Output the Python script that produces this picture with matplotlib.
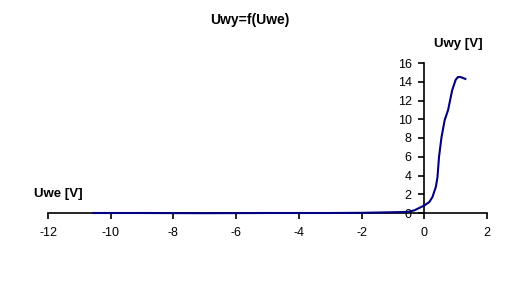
import matplotlib
matplotlib.use("Agg")
import matplotlib.pyplot as plt

# Measured characteristic Uwy = f(Uwe)
uwe = [-10.55, -9.0, -7.0, -5.0, -3.0, -2.0, -1.5, -1.0, -0.53, -0.32, 0.0,
       0.16, 0.26, 0.37, 0.42, 0.47, 0.55, 0.65, 0.76, 0.89, 1.0, 1.07,
       1.16, 1.31]
uwy = [0.0, 0.0, -0.02, 0.0, 0.0, 0.02, 0.05, 0.08, 0.12, 0.28, 0.8,
       1.17, 1.7, 2.8, 3.8, 6.0, 8.1, 9.9, 11.0, 13.1, 14.2, 14.5,
       14.5, 14.3]

x_ticks = list(range(-12, 3, 2))
y_ticks = list(range(0, 17, 2))

plt.rcParams["font.family"] = ["Liberation Sans", "DejaVu Sans"]
plt.rcParams["axes.unicode_minus"] = False

fig = plt.figure(figsize=(5.11, 2.83), dpi=100)
ax = fig.add_axes([48 / 511, (283 - 213) / 283, (487 - 48) / 511, 150 / 283])

ax.plot(uwe, uwy, color="#000080", lw=1.5, clip_on=False, zorder=3)

ax.set_xlim(-12, 2)
ax.set_ylim(0, 16)
ax.set_xticks(x_ticks)
ax.set_yticks(y_ticks)

ax.spines["top"].set_visible(False)
ax.spines["right"].set_visible(False)
ax.spines["left"].set_position(("data", 0))
ax.spines["left"].set_linewidth(1.2)
ax.spines["bottom"].set_linewidth(1.2)

ax.tick_params(axis="both", direction="out", length=4, width=1.2,
               labelsize=9, colors="black")
ax.tick_params(axis="x", pad=6)
ax.tick_params(axis="y", pad=5)

fig.text(250 / 511, 1 - 20 / 283, "Uwy=f(Uwe)", ha="center", va="center",
         fontsize=10, fontweight="bold")
fig.text(458 / 511, 1 - 44 / 283, "Uwy [V]", ha="center", va="center",
         fontsize=9.5, fontweight="bold")
fig.text(58 / 511, 1 - 194 / 283, "Uwe [V]", ha="center", va="center",
         fontsize=9.5, fontweight="bold")

fig.savefig("out.png", dpi=100)
